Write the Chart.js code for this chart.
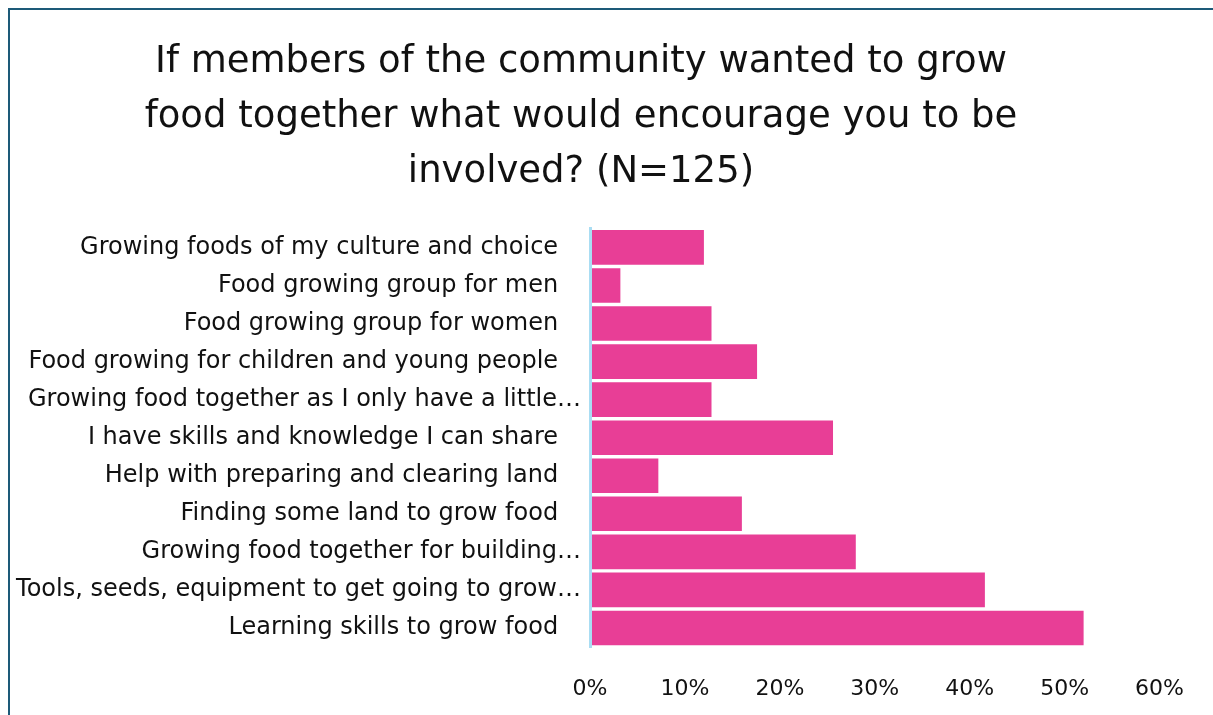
<!DOCTYPE html>
<html>
<head>
<meta charset="utf-8">
<script src="https://cdn.jsdelivr.net/npm/chart.js"></script>
<style>
  body { margin: 0; background: #fff; overflow: hidden; }
  #frame {
    position: absolute; left: 8px; top: 8px; width: 1400px; height: 900px;
    border-left: 2px solid #1d5a78; border-top: 2px solid #1d5a78;
  }
  #myChart { position: absolute; left: 0; top: 0; }
</style>
</head>
<body>
<div id="frame"></div>
<canvas id="myChart" width="1213" height="715"></canvas>
<script>
const titleLines = [
  'If members of the community wanted to grow',
  'food together what would encourage you to be',
  'involved? (N=125)'
];

const categories = [
  'Growing foods of my culture and choice',
  'Food growing group for men',
  'Food growing group for women',
  'Food growing for children and young people',
  'Growing food together as I only have a little\u2026',
  'I have skills and knowledge I can share',
  'Help with preparing and clearing land',
  'Finding some land to grow food',
  'Growing food together for building\u2026',
  'Tools, seeds, equipment to get going to grow\u2026',
  'Learning skills to grow food'
];

// share of respondents, %
const percents = [12, 3.2, 12.8, 17.6, 12.8, 25.6, 7.2, 16, 28, 41.6, 52];

const xTicks = [0, 10, 20, 30, 40, 50, 60];

const fontFamily = "'DejaVu Sans', sans-serif";

const data = {
  labels: categories,
  datasets: [{
    data: percents,
    backgroundColor: '#e83e96',
    borderWidth: 0,
    categoryPercentage: 0.91,
    barPercentage: 1
  }]
};

const ctx = document.getElementById('myChart');

new Chart(ctx, {
  type: 'bar',
  data: data,
  options: {
    indexAxis: 'y',
    responsive: false,
    animation: false,
    layout: { padding: { left: 0, right: 51, top: 0, bottom: 0 } },
    plugins: {
      legend: { display: false },
      tooltip: { enabled: false },
      title: {
        display: true,
        text: titleLines,
        color: '#111',
        font: { family: fontFamily, size: 37, weight: 'normal', lineHeight: 1.49 },
        padding: { top: 35, bottom: 28 }
      }
    },
    scales: {
      x: {
        min: xTicks[0],
        max: xTicks[xTicks.length - 1],
        afterBuildTicks: function (scale) {
          scale.ticks = xTicks.map(v => ({ value: v }));
        },
        afterFit: function (scale) { scale.height = 68; },
        grid: { display: false, drawTicks: false },
        border: { display: false },
        ticks: {
          padding: 29,
          color: '#111',
          font: { family: fontFamily, size: 22 },
          callback: v => v + '%'
        }
      },
      y: {
        afterFit: function (scale) { scale.width = 590; },
        grid: { display: false, drawTicks: false },
        border: { display: true, color: '#a9ddf3', width: 3, z: 1 },
        ticks: {
          padding: 9,
          color: '#111',
          font: { family: fontFamily, size: 24 },
          // full labels carry a trailing gap, cut ones run up to the axis
          callback: function (v) {
            const s = this.getLabelForValue(v);
            return s.endsWith('\u2026') ? s : s + '   ';
          }
        }
      }
    }
  }
});
</script>
</body>
</html>
